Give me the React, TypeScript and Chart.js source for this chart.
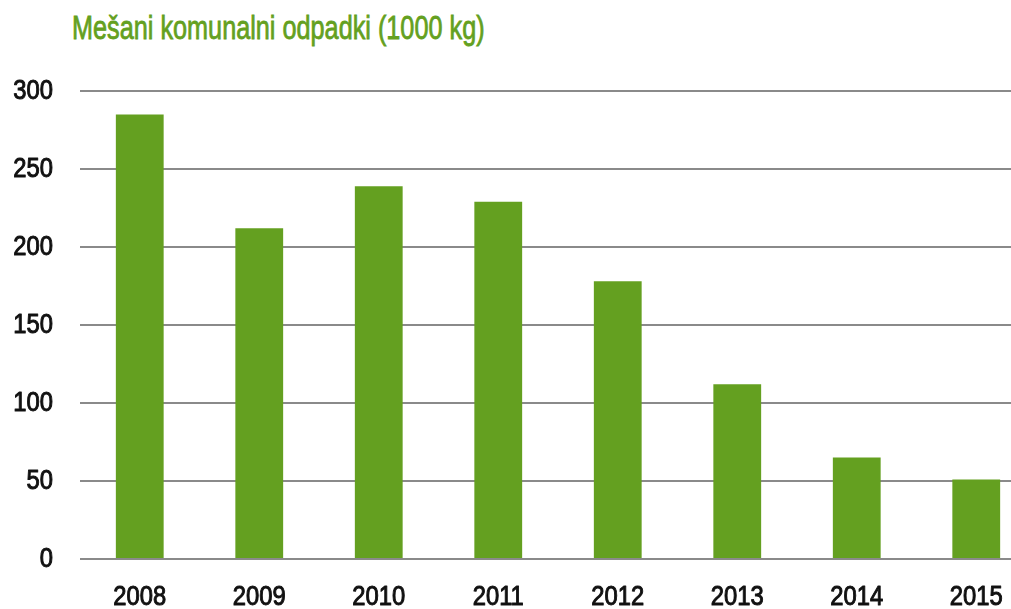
import React, { useEffect, useRef } from "react";
import { Chart, registerables } from "chart.js";

Chart.register(...registerables);

const TITLE = "Mešani komunalni odpadki (1000 kg)";
const years = ["2008", "2009", "2010", "2011", "2012", "2013", "2014", "2015"];
const waste = [285, 212, 239, 229, 178, 112, 65, 51];
const yMax = 300;
const yStep = 50;

const GREEN = "#64a020";
const TEXT = "#111111";
const FONT = "'Liberation Sans', Arial, sans-serif";
const TICK_SIZE = 27;
const CONDENSE = 0.88;

// Draws tick labels in a condensed style, positioned by the chart's own scales.
const condensedTicks = {
  id: "condensedTicks",
  afterDraw(chart: any) {
    const ctx = chart.ctx as CanvasRenderingContext2D;
    const xs = chart.scales.x;
    const ys = chart.scales.y;
    ctx.save();
    ctx.font = `${TICK_SIZE}px ${FONT}`;
    ctx.fillStyle = TEXT;
    ctx.strokeStyle = TEXT;
    ctx.lineWidth = 1.0;
    ctx.lineJoin = "round";
    ctx.scale(CONDENSE, 1);
    // y labels
    ctx.textAlign = "right";
    ctx.textBaseline = "middle";
    const yRight = chart.chartArea.left - 27;
    ys.ticks.forEach((t: any) => {
      const y = ys.getPixelForValue(t.value) + 1;
      const label = String(t.value);
      ctx.fillText(label, yRight / CONDENSE, y);
      ctx.strokeText(label, yRight / CONDENSE, y);
    });
    // x labels
    ctx.textAlign = "center";
    const yLab = chart.chartArea.bottom + 39;
    xs.ticks.forEach((t: any, i: number) => {
      const x = xs.getPixelForTick(i);
      const label = String(chart.data.labels[i]);
      ctx.fillText(label, x / CONDENSE, yLab);
      ctx.strokeText(label, x / CONDENSE, yLab);
    });
    ctx.restore();
  },
};

export default function App() {
  const ref = useRef<HTMLCanvasElement | null>(null);

  useEffect(() => {
    if (!ref.current) return;
    const chart = new Chart(ref.current, {
      type: "bar",
      data: {
        labels: years,
        datasets: [
          {
            data: waste,
            backgroundColor: GREEN,
            borderWidth: 0,
            categoryPercentage: 0.8,
            barPercentage: 0.5,
          },
        ],
      },
      options: {
        responsive: false,
        animation: false,
        devicePixelRatio: 1,
        layout: { padding: { top: 91, right: 0, bottom: 0, left: 0 } },
        plugins: {
          legend: { display: false },
          title: { display: false },
          tooltip: { enabled: false },
        },
        scales: {
          x: {
            grid: { display: false, drawTicks: false },
            border: { display: false },
            ticks: { display: false },
            afterFit: (s: any) => {
              s.height = 50;
            },
          },
          y: {
            min: 0,
            max: yMax,
            grid: { color: "#8a8a8a", lineWidth: 2, drawTicks: false },
            border: { display: false },
            ticks: { display: false, stepSize: yStep },
            afterFit: (s: any) => {
              s.width = 80;
            },
          },
        },
      },
      plugins: [condensedTicks],
    });
    return () => chart.destroy();
  }, []);

  return (
    <div
      style={{
        position: "fixed",
        left: 0,
        top: 0,
        width: 1011,
        height: 609,
        overflow: "hidden",
        background: "#fff",
      }}
    >
      <div
        style={{
          position: "absolute",
          left: 72,
          top: 8,
          color: GREEN,
          fontFamily: FONT,
          fontSize: 33,
          lineHeight: "40px",
          whiteSpace: "nowrap",
          transform: "scaleX(0.765)",
          transformOrigin: "0 0",
          WebkitTextStroke: "0.8px " + GREEN,
        }}
      >
        {TITLE}
      </div>
      <canvas
        ref={ref}
        width={1036}
        height={609}
        style={{ position: "absolute", left: 0, top: 0, width: 1036, height: 609 }}
      />
    </div>
  );
}
